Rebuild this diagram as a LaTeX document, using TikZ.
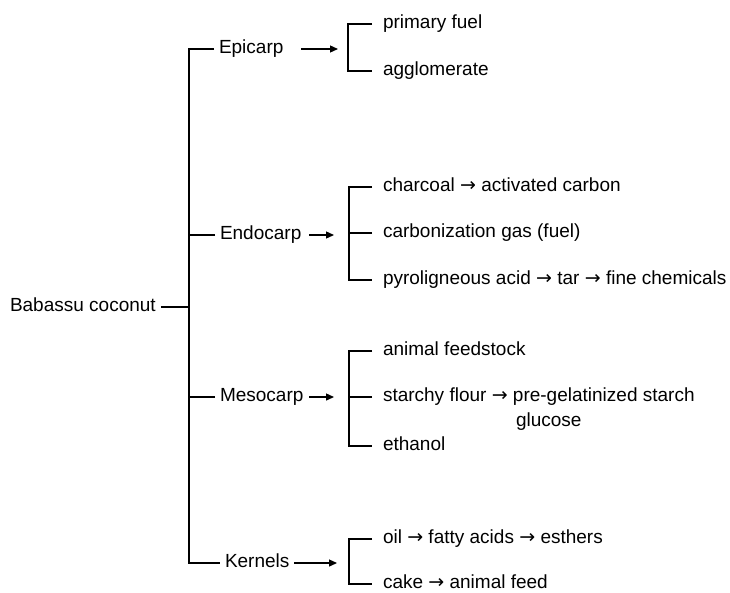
\documentclass[tikz,border=0pt]{standalone}
\usepackage{fontspec}
\setmainfont{Liberation Sans}
\newfontfamily\arrowfont{DejaVu Sans}
\usetikzlibrary{arrows.meta}
\newcommand{\yields}{{\arrowfont →}}
\tikzset{
  part/.style={anchor=west,inner sep=2pt,outer xsep=3pt,text height=13pt,text depth=4pt},
  item/.style={anchor=west,inner sep=2pt,outer xsep=9pt,text height=13pt,text depth=4pt},
  branch/.style={line width=1.3pt},
  feed/.style={line width=1.3pt,-{Triangle[length=8pt,width=7pt]}}
}
\begin{document}
\begin{tikzpicture}[x=1pt,y=-1pt,font=\fontsize{19}{22}\selectfont]
\useasboundingbox (0,0) rectangle (730,592);
   \node[part] at (5,307)   (bab)  {Babassu coconut};
   \coordinate (jt) at (189,307);
   \node[part] at (214,49)  (epi)  {Epicarp};
   \node[part] at (215,235) (endo) {Endocarp};
   \node[part] at (215,397) (meso) {Mesocarp};
   \node[part] at (220,563) (ker)  {Kernels};
   \draw[branch] (bab.east) -- (jt);
   \draw[branch] (epi.west) -- (epi.west -| jt) -- (ker.west -| jt) -- (ker.west);
   \draw[branch] (endo.west) -- (endo.west -| jt);
   \draw[branch] (meso.west) -- (meso.west -| jt);
   % brackets
   \coordinate (epibr)  at (348,49);
   \coordinate (endobr) at (349,233);
   \coordinate (mesobr) at (349,397);
   \coordinate (kerbr)  at (349,563);
   \draw[feed] ([xshift=13pt]epi.east)  -- ([xshift=-10pt]epi.east -| epibr);
   \draw[feed] ([xshift=3pt]endo.east)  -- ([xshift=-15pt]endo.east -| endobr);
   \draw[feed] ([xshift=1pt]meso.east)  -- ([xshift=-15pt]meso.east -| mesobr);
   \draw[feed] ([xshift=0pt]ker.east)   -- ([xshift=-12pt]ker.east -| kerbr);
   % epicarp
   \node[item] at (372,24)  (pf) {primary fuel};
   \node[item] at (372,71)  (ag) {agglomerate};
   \draw[branch] (pf.west) -- (pf.west -| epibr) -- (ag.west -| epibr) -- (ag.west);
   % endocarp
   \node[item] at (372,187) (cc) {charcoal \yields{} activated carbon};
   \node[item] at (372,233) (cg) {carbonization gas (fuel)};
   \node[item] at (372,280) (pa) {pyroligneous acid \yields{} tar \yields{} fine chemicals};
   \draw[branch] (cc.west) -- (cc.west -| endobr) -- (pa.west -| endobr) -- (pa.west);
   \draw[branch] (cg.west) -- (cg.west -| endobr);
   % mesocarp
   \node[item] at (372,351) (af) {animal feedstock};
   \node[item] at (372,397) (sf) {starchy flour \yields{} pre-gelatinized starch};
   \node[item] at (505,422) (glu) {glucose};
   \node[item] at (372,446) (et) {ethanol};
   \draw[branch] (af.west) -- (af.west -| mesobr) -- (et.west -| mesobr) -- (et.west);
   \draw[branch] (sf.west) -- (sf.west -| mesobr);
   % kernels
   \node[item] at (372,539) (oil) {oil \yields{} fatty acids \yields{} esthers};
   \node[item] at (372,584) (ck)  {cake \yields{} animal feed};
   \draw[branch] (oil.west) -- (oil.west -| kerbr) -- (ck.west -| kerbr) -- (ck.west);
\end{tikzpicture}
\end{document}
